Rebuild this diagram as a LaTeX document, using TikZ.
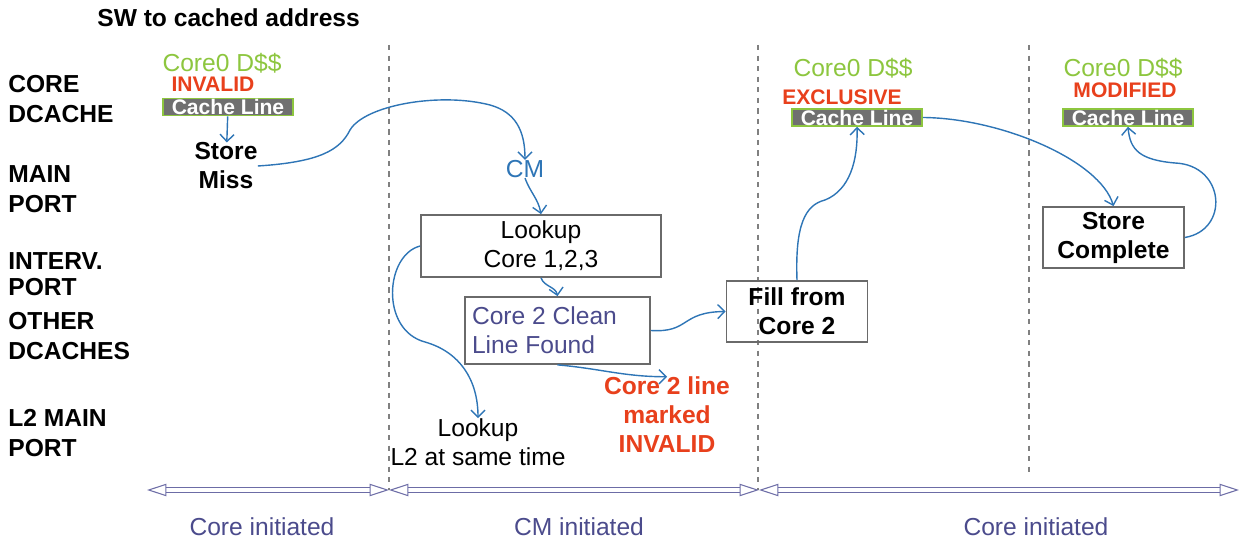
\documentclass[tikz,border=0pt]{standalone}
\usepackage{fontspec}
\setmainfont{Liberation Sans}
\usepackage{tikz}
\usetikzlibrary{arrows.meta}
\definecolor{lime}{HTML}{8DC63F}
\definecolor{alert}{HTML}{E8401C}
\definecolor{flow}{HTML}{2E75B6}
\definecolor{indigo}{HTML}{4B4B8C}
\definecolor{epochc}{HTML}{6C6CA6}
\definecolor{barg}{HTML}{707070}
\definecolor{boxg}{HTML}{6A6A6A}

\begin{document}
\begin{tikzpicture}[x=0.02cm, y=-0.02cm,
    every node/.style={inner sep=0pt, align=center, font=\fontsize{14}{16.5}\selectfont},
    strong/.style={font=\bfseries\fontsize{14}{16.5}\selectfont},
    lane/.style={anchor=west, align=left, font=\bfseries\fontsize{14}{17}\selectfont},
    box/.style={draw=boxg, line width=1pt, minimum width=2.82cm, minimum height=1.22cm},
    cline/.style={fill=barg, draw=lime, line width=0.9pt, minimum width=2.6cm, minimum height=0.34cm, text=white, font=\bfseries\fontsize{12}{14}\selectfont},
    cache/.style={text=lime},
    mesi/.style={text=alert, font=\bfseries\fontsize{12}{14}\selectfont},
    hop/.style={draw=flow, line width=0.8pt, -{Straight Barb[length=4pt,width=8pt]}},
    divider/.style={draw=gray, dashed, line width=0.7pt},
    epoch/.style={draw=epochc, double=white, double distance=2.2pt, line width=0.6pt, {Triangle[open,length=11pt,width=7pt]}-{Triangle[open,length=11pt,width=7pt]}}]
    \useasboundingbox (0,0) rectangle (1241,550);
    \node [lane] (title) at (97,18) {SW to cached address};
    \node [lane] (core) at (8,99) {CORE\\DCACHE};
    \node [lane] (main) at (8,189) {MAIN\\PORT};
    \node [lane] (interv) at (8,274) {INTERV.\\[-2pt]PORT};
    \node [lane] (other) at (8,336) {OTHER\\DCACHES};
    \node [lane] (l2) at (8,433) {L2 MAIN\\PORT};

    \draw [divider] (389,45) -- (389,490);
    \draw [divider] (758,45) -- (758,490);
    \draw [divider] (1029,45) -- (1029,475);

    \node [cache] (d1) at (222,63) {Core0 D\$\$};
    \node [mesi] (inv1) at (213,84.5) {INVALID};
    \node [cline] (cl1) at (228,107) {Cache Line};
    \node [strong] (miss) at (226,166) {Store\\Miss};
    \node [text=flow] (cm) at (525,169) {CM};
    \node [box, minimum width=4.8cm, minimum height=1.24cm] (look) at (541,246) {Lookup\\Core 1,2,3};
    \node [box, minimum width=3.7cm, minimum height=1.34cm, text width=3.42cm, align=flush left, text=indigo] (clean) at (557.5,330.5) {Core 2 Clean\\Line Found};
    \node (l2look) at (478,442) {Lookup\\L2 at same time};
    \node [mesi, font=\bfseries\fontsize{14}{16.5}\selectfont] (inv2) at (667,415) {Core 2 line\\marked\\INVALID};
    \node [box, strong] (fill) at (797,311.5) {Fill from\\Core 2};
    \node [cache] (d2) at (853,68) {Core0 D\$\$};
    \node [mesi] (excl) at (842,97) {EXCLUSIVE};
    \node [cline] (cl2) at (857,117.5) {Cache Line};
    \node [box, strong] (done) at (1113.5,237.5) {Store\\Complete};
    \node [cache] (d3) at (1123,68) {Core0 D\$\$};
    \node [mesi] (mod) at (1125,90) {MODIFIED};
    \node [cline] (cl3) at (1128,117.5) {Cache Line};

    \draw [hop] (cl1) -- (miss);
    \draw [hop] (miss.east) .. controls (320,162) and (340,150) .. (350,130) .. controls (365,105) and (440,92) .. (490,105) .. controls (515,112) and (525,130) .. (cm.north);
    \draw [hop] (cm.south) to[out=-70,in=100] (look.north);
    \draw [hop] (look.south) to[out=-70,in=100] (clean.north);
    \draw [hop] (look.west) .. controls (385,255) and (380,330) .. (425,342) .. controls (460,352) and (478,380) .. (l2look.north);
    \draw [hop] (clean.east) .. controls (690,333) and (680,312) .. (fill.west);
    \draw [hop] (clean.south) to[out=-5,in=180] (inv2.north);
    \draw [hop] (fill.north) .. controls (795,225) and (805,205) .. (825,200) .. controls (850,190) and (858,160) .. (cl2.south);
    \draw [hop] (cl2.east) .. controls (1000,118) and (1100,160) .. (done.north);
    \draw [hop] (done.east) .. controls (1230,230) and (1225,165) .. (1175,163) .. controls (1140,160) and (1130,150) .. (cl3.south);

    \coordinate (t0) at (147,490);
    \coordinate (t1) at (389,490);
    \coordinate (t2) at (759,490);
    \coordinate (t3) at (1239,490);
    \draw [epoch] (t0) -- (t1);
    \draw [epoch] (t1) -- (t2);
    \draw [epoch] (t2) -- (t3);
    \node [text=indigo] (ci1) at (262,527) {Core initiated};
    \node [text=indigo] (cmi) at (579,527) {CM initiated};
    \node [text=indigo] (ci2) at (1036,527) {Core initiated};
\end{tikzpicture}
\end{document}
